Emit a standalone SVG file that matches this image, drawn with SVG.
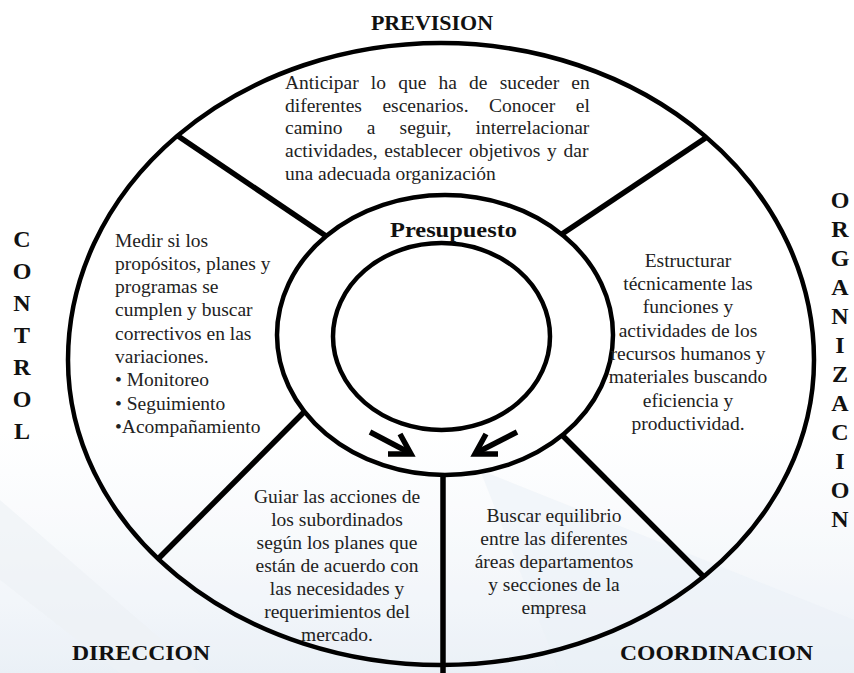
<svg xmlns="http://www.w3.org/2000/svg" width="854" height="673" viewBox="0 0 854 673">
<defs>
<linearGradient id="wm" x1="0" y1="0" x2="0" y2="1">
<stop offset="0" stop-color="#eef3f9" stop-opacity="0"/>
<stop offset="1" stop-color="#e3ebf4" stop-opacity="0.9"/>
</linearGradient>
</defs>
<style>
.ln{fill:none;stroke:#000;stroke-width:4.5}
.sp{fill:none;stroke:#000;stroke-width:5.5;stroke-linecap:butt}
.ar{fill:none;stroke:#000;stroke-width:5.5;stroke-linecap:butt;stroke-linejoin:miter}
.t{font-family:"Liberation Serif","Times New Roman",serif;font-size:19.5px;fill:#222}
.c{text-anchor:middle}
.h{font-family:"Liberation Serif","Times New Roman",serif;font-size:22px;font-weight:bold;fill:#111}
.v{font-family:"Liberation Serif","Times New Roman",serif;font-size:24px;font-weight:bold;fill:#111;text-anchor:middle}
</style>
<rect width="854" height="673" fill="#fff"/>
<g id="watermark" opacity="0.8">
<rect x="0" y="430" width="854" height="243" fill="url(#wm)"/>
<polygon points="0,500 200,673 120,673 0,580" fill="#e9eef4" opacity="0.6"/>
<polygon points="480,470 854,620 854,673 560,673" fill="#e6edf5" opacity="0.5"/>
</g>
<g id="dividers">
<line class="sp" x1="178" y1="136" x2="326" y2="236"/>
<line class="sp" x1="707" y1="137" x2="562" y2="234"/>
<line class="sp" x1="158" y1="559" x2="304.5" y2="411.5"/>
<line class="sp" x1="562.5" y1="435.5" x2="704" y2="577"/>
<line class="sp" x1="443" y1="475" x2="443" y2="673"/>
</g>
<g id="wheel">
<path class="ln" d="M 68 360 A 373 317 0 0 1 814 360 A 373 305 0 0 1 68 360 Z"/>
<ellipse class="ln" cx="445" cy="335" rx="168" ry="140" fill="#fff"/>
<ellipse class="ln" cx="441.5" cy="336.5" rx="108.5" ry="93.5"/>
</g>
<g id="connectors">
<line class="ar" x1="370" y1="432" x2="410" y2="453"/>
<polyline class="ar" points="388,454 411,454 400,434"/>
<line class="ar" x1="517" y1="432" x2="476" y2="453"/>
<polyline class="ar" points="498,454 475,454 486,434"/>
</g>
<g id="prevision">
<text class="h" x="432" y="30" text-anchor="middle">PREVISION</text>
<text class="t" x="285" y="89" word-spacing="7.3">Anticipar lo que ha de suceder en</text>
<text class="t" x="285" y="112" word-spacing="15.7">diferentes escenarios. Conocer el</text>
<text class="t" x="285" y="134" word-spacing="19.4">camino a seguir, interrelacionar</text>
<text class="t" x="285" y="157" word-spacing="1.8">actividades, establecer objetivos y dar</text>
<text class="t" x="285" y="180">una adecuada organización</text>
</g>
<g id="control">
<text class="v" x="22" y="247">C</text>
<text class="v" x="22" y="279">O</text>
<text class="v" x="22" y="311">N</text>
<text class="v" x="22" y="343">T</text>
<text class="v" x="22" y="375">R</text>
<text class="v" x="22" y="407">O</text>
<text class="v" x="22" y="439">L</text>
<text class="t" x="115" y="247">Medir si los</text>
<text class="t" x="115" y="270">propósitos, planes y</text>
<text class="t" x="115" y="293">programas se</text>
<text class="t" x="115" y="316">cumplen y buscar</text>
<text class="t" x="115" y="340">correctivos en las</text>
<text class="t" x="115" y="363">variaciones.</text>
<text class="t" x="115" y="386">• Monitoreo</text>
<text class="t" x="115" y="410">• Seguimiento</text>
<text class="t" x="115" y="433">•Acompañamiento</text>
</g>
<g id="organizacion">
<text class="v" x="840" y="208">O</text>
<text class="v" x="840" y="237">R</text>
<text class="v" x="840" y="266">G</text>
<text class="v" x="840" y="295">A</text>
<text class="v" x="840" y="324">N</text>
<text class="v" x="840" y="353">I</text>
<text class="v" x="840" y="382">Z</text>
<text class="v" x="840" y="411">A</text>
<text class="v" x="840" y="440">C</text>
<text class="v" x="840" y="469">I</text>
<text class="v" x="840" y="498">O</text>
<text class="v" x="840" y="527">N</text>
<text class="t c" x="688" y="267">Estructurar</text>
<text class="t c" x="688" y="290">técnicamente las</text>
<text class="t c" x="688" y="313">funciones y</text>
<text class="t c" x="688" y="337">actividades de los</text>
<text class="t c" x="688" y="360">recursos humanos y</text>
<text class="t c" x="688" y="383">materiales buscando</text>
<text class="t c" x="688" y="407">eficiencia y</text>
<text class="t c" x="688" y="430">productividad.</text>
</g>
<g id="direccion">
<text class="h" x="72" y="660" textLength="138" lengthAdjust="spacingAndGlyphs">DIRECCION</text>
<text class="t c" x="337" y="503">Guiar las acciones de</text>
<text class="t c" x="337" y="526">los subordinados</text>
<text class="t c" x="337" y="549">según los planes que</text>
<text class="t c" x="337" y="572">están de acuerdo con</text>
<text class="t c" x="337" y="595">las necesidades y</text>
<text class="t c" x="337" y="618">requerimientos del</text>
<text class="t c" x="337" y="641">mercado.</text>
</g>
<g id="coordinacion">
<text class="h" x="620" y="660" textLength="193" lengthAdjust="spacingAndGlyphs">COORDINACION</text>
<text class="t c" x="554" y="522">Buscar equilibrio</text>
<text class="t c" x="554" y="545">entre las diferentes</text>
<text class="t c" x="554" y="568">áreas departamentos</text>
<text class="t c" x="554" y="591">y secciones de la</text>
<text class="t c" x="554" y="614">empresa</text>
</g>
<g id="presupuesto">
<text class="h" x="390" y="237" textLength="127" lengthAdjust="spacingAndGlyphs">Presupuesto</text>
</g>
</svg>
